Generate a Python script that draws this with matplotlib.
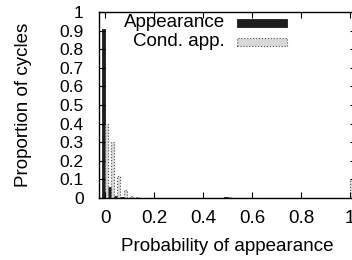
import numpy as np
import matplotlib
matplotlib.use('Agg')
import matplotlib.pyplot as plt
from matplotlib.patches import Rectangle

plt.rcParams['font.family'] = ['Liberation Sans', 'DejaVu Sans']
plt.rcParams['font.size'] = 13.5

# bin centres of the probability histogram (step 0.025)
bins = [0.000, 0.025, 0.050, 0.075, 0.100, 0.125, 0.150, 0.175, 0.200, 0.225,
        0.250, 0.275, 0.300, 0.325, 0.350, 0.375, 0.400, 0.425, 0.450, 0.475,
        0.500, 0.525, 0.550, 0.575, 0.600, 0.625, 0.650, 0.675, 0.700, 0.725,
        0.750, 0.775, 0.800, 0.825, 0.850, 0.875, 0.900, 0.925, 0.950, 0.975,
        1.000]
appearance = [0.910, 0.060, 0.012, 0.004, 0.002, 0.001, 0.001, 0.001, 0.001, 0.002,
              0.001, 0.001, 0.001, 0.002, 0.001, 0.001, 0.001, 0.001, 0.001, 0.001,
              0.005, 0.001, 0.001, 0.001, 0.001, 0.001, 0.001, 0.001, 0.001, 0.001,
              0.001, 0.001, 0.001, 0.001, 0.001, 0.001, 0.001, 0.001, 0.001, 0.001,
              0.001]
cond_app = [0.400, 0.300, 0.120, 0.045, 0.012, 0.004, 0.002, 0.002, 0.001, 0.001,
            0.001, 0.001, 0.001, 0.001, 0.001, 0.001, 0.001, 0.001, 0.001, 0.001,
            0.008, 0.001, 0.001, 0.001, 0.001, 0.001, 0.001, 0.001, 0.001, 0.001,
            0.001, 0.001, 0.001, 0.001, 0.001, 0.001, 0.001, 0.001, 0.001, 0.001,
            0.100]
labels = ['Appearance', 'Cond. app.']

black = '#1e1e1e'
grey_fc = '#d8d8d8'
grey_ec = '#505050'

fig = plt.figure(figsize=(3.52, 2.60), dpi=100)
ax = fig.add_axes([0.2813, 0.2385, 0.7303, 0.7153])

x = np.array(bins)
w = 0.0125
ax.bar(x - w / 2, appearance, width=w, color=black, edgecolor=black, linewidth=0.6)
ax.bar(x + w / 2, cond_app, width=w, color=grey_fc, edgecolor=grey_ec,
       linewidth=0.8, linestyle=':')

ax.set_xlim(-0.025, 1.025)
ax.set_ylim(0, 1)
ax.set_xticks([0, 0.2, 0.4, 0.6, 0.8, 1])
ax.set_xticklabels(['0', '0.2', '0.4', '0.6', '0.8', '1'])
ax.set_yticks(np.arange(0, 1.01, 0.1))
ax.set_yticklabels(['0', '0.1', '0.2', '0.3', '0.4', '0.5', '0.6', '0.7', '0.8', '0.9', '1'])
ax.tick_params(direction='in', top=True, right=True, length=4, width=0.8)
ax.tick_params(axis='y', pad=11, labelsize=12.5)
ax.tick_params(axis='x', pad=9)
for s in ax.spines.values():
    s.set_linewidth(1.0)

ax.set_xlabel('Probability of appearance', labelpad=7.5)
ax.set_ylabel('Proportion of cycles', labelpad=20)

# legend, gnuplot style: text right-aligned, sample to the right
styles = [dict(facecolor=black, edgecolor=black, linewidth=0.6),
          dict(facecolor=grey_fc, edgecolor=grey_ec, linewidth=0.8, linestyle=':')]
for i, (lab, st) in enumerate(zip(labels, styles)):
    yy = 0.941 - i * 0.102
    ax.text(0.490, yy, lab, transform=ax.transAxes, ha='right', va='center')
    ax.add_patch(Rectangle((0.537, yy - 0.022), 0.195, 0.044,
                           transform=ax.transAxes, clip_on=False, **st))

fig.savefig('out.png', dpi=100)
